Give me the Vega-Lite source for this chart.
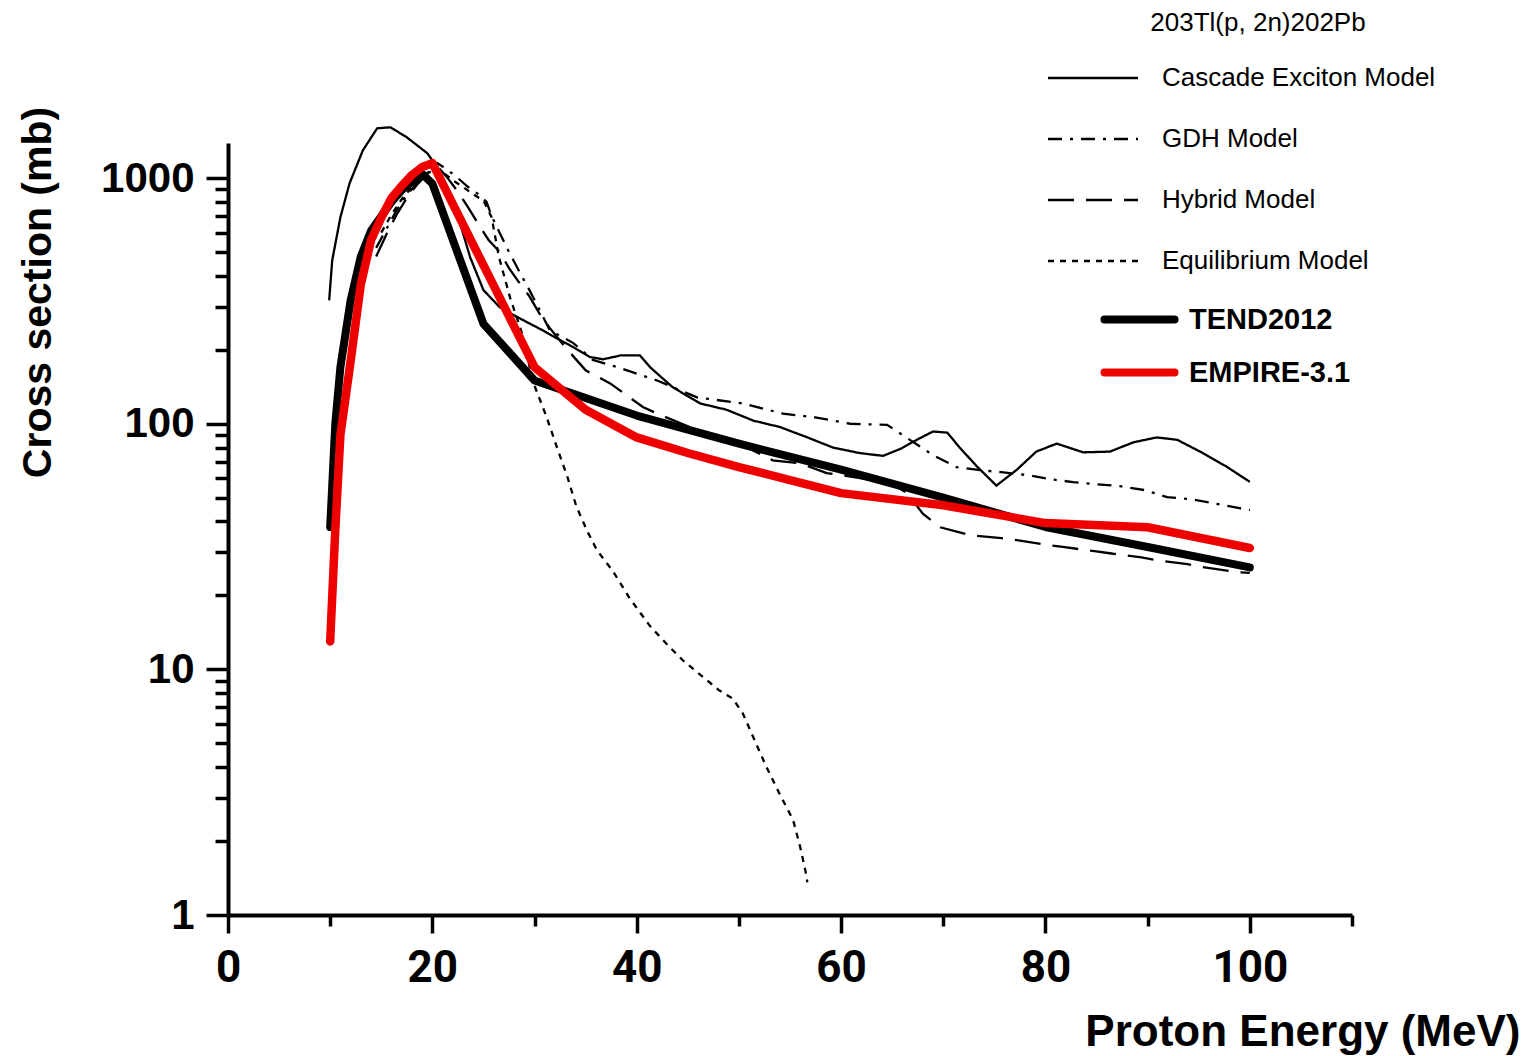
{
  "$schema": "https://vega.github.io/schema/vega-lite/v6.json",
  "width": 1124,
  "height": 772,
  "autosize": {"type": "none"},
  "padding": {"left": 228, "top": 143, "right": 180, "bottom": 141},
  "background": "white",
  "config": {"view": {"stroke": null}, "font": "Liberation Sans"},
  "data": {"values": [
    {"series": "Cascade Exciton Model", "energy": 9.9, "xs": 318},
    {"series": "Cascade Exciton Model", "energy": 10.2, "xs": 463},
    {"series": "Cascade Exciton Model", "energy": 11, "xs": 693},
    {"series": "Cascade Exciton Model", "energy": 11.9, "xs": 953},
    {"series": "Cascade Exciton Model", "energy": 13.2, "xs": 1298},
    {"series": "Cascade Exciton Model", "energy": 14.6, "xs": 1596},
    {"series": "Cascade Exciton Model", "energy": 15.9, "xs": 1610},
    {"series": "Cascade Exciton Model", "energy": 17.5, "xs": 1466},
    {"series": "Cascade Exciton Model", "energy": 19.5, "xs": 1263},
    {"series": "Cascade Exciton Model", "energy": 20.7, "xs": 1077},
    {"series": "Cascade Exciton Model", "energy": 22, "xs": 813},
    {"series": "Cascade Exciton Model", "energy": 23, "xs": 597},
    {"series": "Cascade Exciton Model", "energy": 23.7, "xs": 476},
    {"series": "Cascade Exciton Model", "energy": 25, "xs": 350},
    {"series": "Cascade Exciton Model", "energy": 26.6, "xs": 298},
    {"series": "Cascade Exciton Model", "energy": 28.3, "xs": 272},
    {"series": "Cascade Exciton Model", "energy": 30.8, "xs": 240},
    {"series": "Cascade Exciton Model", "energy": 32.5, "xs": 219},
    {"series": "Cascade Exciton Model", "energy": 33.8, "xs": 205},
    {"series": "Cascade Exciton Model", "energy": 35.4, "xs": 187},
    {"series": "Cascade Exciton Model", "energy": 36.7, "xs": 183},
    {"series": "Cascade Exciton Model", "energy": 38.5, "xs": 190},
    {"series": "Cascade Exciton Model", "energy": 40.3, "xs": 190},
    {"series": "Cascade Exciton Model", "energy": 41.3, "xs": 170},
    {"series": "Cascade Exciton Model", "energy": 43.5, "xs": 141},
    {"series": "Cascade Exciton Model", "energy": 46.2, "xs": 121},
    {"series": "Cascade Exciton Model", "energy": 48.8, "xs": 114},
    {"series": "Cascade Exciton Model", "energy": 51.4, "xs": 103},
    {"series": "Cascade Exciton Model", "energy": 54, "xs": 97},
    {"series": "Cascade Exciton Model", "energy": 56.7, "xs": 88},
    {"series": "Cascade Exciton Model", "energy": 59.2, "xs": 80},
    {"series": "Cascade Exciton Model", "energy": 61.8, "xs": 76},
    {"series": "Cascade Exciton Model", "energy": 64.1, "xs": 74},
    {"series": "Cascade Exciton Model", "energy": 65.8, "xs": 79},
    {"series": "Cascade Exciton Model", "energy": 67.4, "xs": 86},
    {"series": "Cascade Exciton Model", "energy": 69, "xs": 93},
    {"series": "Cascade Exciton Model", "energy": 70.4, "xs": 92},
    {"series": "Cascade Exciton Model", "energy": 71.6, "xs": 80},
    {"series": "Cascade Exciton Model", "energy": 73.3, "xs": 67},
    {"series": "Cascade Exciton Model", "energy": 75.2, "xs": 56},
    {"series": "Cascade Exciton Model", "energy": 77.2, "xs": 65},
    {"series": "Cascade Exciton Model", "energy": 79.1, "xs": 77},
    {"series": "Cascade Exciton Model", "energy": 81.1, "xs": 83},
    {"series": "Cascade Exciton Model", "energy": 83.7, "xs": 76.5},
    {"series": "Cascade Exciton Model", "energy": 86.3, "xs": 77},
    {"series": "Cascade Exciton Model", "energy": 88.6, "xs": 84},
    {"series": "Cascade Exciton Model", "energy": 90.9, "xs": 88},
    {"series": "Cascade Exciton Model", "energy": 92.9, "xs": 86},
    {"series": "Cascade Exciton Model", "energy": 95.4, "xs": 76},
    {"series": "Cascade Exciton Model", "energy": 97.7, "xs": 67},
    {"series": "Cascade Exciton Model", "energy": 100, "xs": 58},

    {"series": "GDH Model", "energy": 14.5, "xs": 520},
    {"series": "GDH Model", "energy": 15.5, "xs": 620},
    {"series": "GDH Model", "energy": 16.5, "xs": 740},
    {"series": "GDH Model", "energy": 17.5, "xs": 850},
    {"series": "GDH Model", "energy": 18.5, "xs": 960},
    {"series": "GDH Model", "energy": 19.5, "xs": 1080},
    {"series": "GDH Model", "energy": 20.5, "xs": 1150},
    {"series": "GDH Model", "energy": 21.5, "xs": 1080},
    {"series": "GDH Model", "energy": 22.5, "xs": 1000},
    {"series": "GDH Model", "energy": 23.5, "xs": 920},
    {"series": "GDH Model", "energy": 24.5, "xs": 860},
    {"series": "GDH Model", "energy": 25.3, "xs": 800},
    {"series": "GDH Model", "energy": 25.8, "xs": 700},
    {"series": "GDH Model", "energy": 26.6, "xs": 597},
    {"series": "GDH Model", "energy": 27.5, "xs": 500},
    {"series": "GDH Model", "energy": 28.6, "xs": 410},
    {"series": "GDH Model", "energy": 29.5, "xs": 350},
    {"series": "GDH Model", "energy": 30.5, "xs": 290},
    {"series": "GDH Model", "energy": 31.5, "xs": 240},
    {"series": "GDH Model", "energy": 33.8, "xs": 213},
    {"series": "GDH Model", "energy": 35.7, "xs": 182},
    {"series": "GDH Model", "energy": 38.1, "xs": 170},
    {"series": "GDH Model", "energy": 42, "xs": 150},
    {"series": "GDH Model", "energy": 45.9, "xs": 128},
    {"series": "GDH Model", "energy": 50.4, "xs": 121},
    {"series": "GDH Model", "energy": 54.3, "xs": 110},
    {"series": "GDH Model", "energy": 57.6, "xs": 106},
    {"series": "GDH Model", "energy": 60.9, "xs": 100},
    {"series": "GDH Model", "energy": 64.5, "xs": 99},
    {"series": "GDH Model", "energy": 69, "xs": 74.5},
    {"series": "GDH Model", "energy": 71.3, "xs": 66.6},
    {"series": "GDH Model", "energy": 73.6, "xs": 64.7},
    {"series": "GDH Model", "energy": 75.7, "xs": 63.5},
    {"series": "GDH Model", "energy": 78.2, "xs": 61.8},
    {"series": "GDH Model", "energy": 80.4, "xs": 59.5},
    {"series": "GDH Model", "energy": 82.7, "xs": 57.9},
    {"series": "GDH Model", "energy": 85.1, "xs": 56.7},
    {"series": "GDH Model", "energy": 87.3, "xs": 55.7},
    {"series": "GDH Model", "energy": 89.7, "xs": 53.7},
    {"series": "GDH Model", "energy": 91.9, "xs": 50.3},
    {"series": "GDH Model", "energy": 94.3, "xs": 49.3},
    {"series": "GDH Model", "energy": 96.4, "xs": 47.5},
    {"series": "GDH Model", "energy": 99, "xs": 45.3},
    {"series": "GDH Model", "energy": 100, "xs": 44.5},

    {"series": "Hybrid Model", "energy": 14.5, "xs": 480},
    {"series": "Hybrid Model", "energy": 15.5, "xs": 590},
    {"series": "Hybrid Model", "energy": 16.5, "xs": 710},
    {"series": "Hybrid Model", "energy": 17.5, "xs": 830},
    {"series": "Hybrid Model", "energy": 18.5, "xs": 940},
    {"series": "Hybrid Model", "energy": 19.5, "xs": 1040},
    {"series": "Hybrid Model", "energy": 20.5, "xs": 1120},
    {"series": "Hybrid Model", "energy": 21.5, "xs": 1000},
    {"series": "Hybrid Model", "energy": 22.5, "xs": 880},
    {"series": "Hybrid Model", "energy": 23.5, "xs": 760},
    {"series": "Hybrid Model", "energy": 24.5, "xs": 650},
    {"series": "Hybrid Model", "energy": 25.5, "xs": 560},
    {"series": "Hybrid Model", "energy": 26.6, "xs": 500},
    {"series": "Hybrid Model", "energy": 27.5, "xs": 430},
    {"series": "Hybrid Model", "energy": 28.6, "xs": 370},
    {"series": "Hybrid Model", "energy": 29.5, "xs": 330},
    {"series": "Hybrid Model", "energy": 30.5, "xs": 280},
    {"series": "Hybrid Model", "energy": 31.5, "xs": 245},
    {"series": "Hybrid Model", "energy": 33, "xs": 205},
    {"series": "Hybrid Model", "energy": 35, "xs": 165},
    {"series": "Hybrid Model", "energy": 37.4, "xs": 146},
    {"series": "Hybrid Model", "energy": 40.6, "xs": 117},
    {"series": "Hybrid Model", "energy": 42, "xs": 110},
    {"series": "Hybrid Model", "energy": 45.2, "xs": 97},
    {"series": "Hybrid Model", "energy": 50.8, "xs": 80},
    {"series": "Hybrid Model", "energy": 53.3, "xs": 71},
    {"series": "Hybrid Model", "energy": 56, "xs": 69},
    {"series": "Hybrid Model", "energy": 58.6, "xs": 63},
    {"series": "Hybrid Model", "energy": 62, "xs": 60},
    {"series": "Hybrid Model", "energy": 65, "xs": 57},
    {"series": "Hybrid Model", "energy": 66.5, "xs": 52},
    {"series": "Hybrid Model", "energy": 68, "xs": 43},
    {"series": "Hybrid Model", "energy": 69.7, "xs": 37.9},
    {"series": "Hybrid Model", "energy": 72.6, "xs": 35.2},
    {"series": "Hybrid Model", "energy": 75.7, "xs": 34.2},
    {"series": "Hybrid Model", "energy": 77.2, "xs": 33.6},
    {"series": "Hybrid Model", "energy": 80.2, "xs": 32.1},
    {"series": "Hybrid Model", "energy": 81.7, "xs": 31.5},
    {"series": "Hybrid Model", "energy": 84.8, "xs": 30.3},
    {"series": "Hybrid Model", "energy": 86.3, "xs": 29.7},
    {"series": "Hybrid Model", "energy": 89.4, "xs": 28.6},
    {"series": "Hybrid Model", "energy": 90.9, "xs": 27.8},
    {"series": "Hybrid Model", "energy": 93.9, "xs": 26.8},
    {"series": "Hybrid Model", "energy": 95.4, "xs": 26.1},
    {"series": "Hybrid Model", "energy": 98.7, "xs": 24.9},
    {"series": "Hybrid Model", "energy": 100, "xs": 24.7},

    {"series": "Equilibrium Model", "energy": 15, "xs": 600},
    {"series": "Equilibrium Model", "energy": 16, "xs": 710},
    {"series": "Equilibrium Model", "energy": 17, "xs": 820},
    {"series": "Equilibrium Model", "energy": 18, "xs": 920},
    {"series": "Equilibrium Model", "energy": 19, "xs": 1010},
    {"series": "Equilibrium Model", "energy": 20, "xs": 1090},
    {"series": "Equilibrium Model", "energy": 21, "xs": 1060},
    {"series": "Equilibrium Model", "energy": 22, "xs": 980},
    {"series": "Equilibrium Model", "energy": 23, "xs": 920},
    {"series": "Equilibrium Model", "energy": 24, "xs": 860},
    {"series": "Equilibrium Model", "energy": 25, "xs": 810},
    {"series": "Equilibrium Model", "energy": 25.8, "xs": 693},
    {"series": "Equilibrium Model", "energy": 26.5, "xs": 480},
    {"series": "Equilibrium Model", "energy": 27.6, "xs": 327},
    {"series": "Equilibrium Model", "energy": 28.9, "xs": 225},
    {"series": "Equilibrium Model", "energy": 29.8, "xs": 150},
    {"series": "Equilibrium Model", "energy": 31.2, "xs": 106},
    {"series": "Equilibrium Model", "energy": 32.2, "xs": 80},
    {"series": "Equilibrium Model", "energy": 33.2, "xs": 61},
    {"series": "Equilibrium Model", "energy": 34.1, "xs": 46},
    {"series": "Equilibrium Model", "energy": 35.1, "xs": 37},
    {"series": "Equilibrium Model", "energy": 36.1, "xs": 30.6},
    {"series": "Equilibrium Model", "energy": 37.7, "xs": 25},
    {"series": "Equilibrium Model", "energy": 39.3, "xs": 19.5},
    {"series": "Equilibrium Model", "energy": 41.3, "xs": 15},
    {"series": "Equilibrium Model", "energy": 43, "xs": 12.6},
    {"series": "Equilibrium Model", "energy": 44.5, "xs": 10.9},
    {"series": "Equilibrium Model", "energy": 46.5, "xs": 9.3},
    {"series": "Equilibrium Model", "energy": 48.1, "xs": 8.2},
    {"series": "Equilibrium Model", "energy": 49.4, "xs": 7.6},
    {"series": "Equilibrium Model", "energy": 50.4, "xs": 6.6},
    {"series": "Equilibrium Model", "energy": 51.4, "xs": 5.3},
    {"series": "Equilibrium Model", "energy": 52.7, "xs": 4.0},
    {"series": "Equilibrium Model", "energy": 54, "xs": 3.1},
    {"series": "Equilibrium Model", "energy": 55.3, "xs": 2.44},
    {"series": "Equilibrium Model", "energy": 56, "xs": 1.89},
    {"series": "Equilibrium Model", "energy": 56.5, "xs": 1.52},
    {"series": "Equilibrium Model", "energy": 56.7, "xs": 1.36},

    {"series": "TEND2012", "energy": 10, "xs": 38},
    {"series": "TEND2012", "energy": 10.5, "xs": 100},
    {"series": "TEND2012", "energy": 11, "xs": 170},
    {"series": "TEND2012", "energy": 12, "xs": 318},
    {"series": "TEND2012", "energy": 13, "xs": 480},
    {"series": "TEND2012", "energy": 14, "xs": 610},
    {"series": "TEND2012", "energy": 15, "xs": 700},
    {"series": "TEND2012", "energy": 16, "xs": 800},
    {"series": "TEND2012", "energy": 17, "xs": 893},
    {"series": "TEND2012", "energy": 18, "xs": 970},
    {"series": "TEND2012", "energy": 19, "xs": 1040},
    {"series": "TEND2012", "energy": 20, "xs": 950},
    {"series": "TEND2012", "energy": 25, "xs": 255},
    {"series": "TEND2012", "energy": 30, "xs": 150},
    {"series": "TEND2012", "energy": 40, "xs": 108},
    {"series": "TEND2012", "energy": 50, "xs": 83},
    {"series": "TEND2012", "energy": 60, "xs": 65},
    {"series": "TEND2012", "energy": 70, "xs": 50},
    {"series": "TEND2012", "energy": 80, "xs": 38},
    {"series": "TEND2012", "energy": 90, "xs": 31.5},
    {"series": "TEND2012", "energy": 100, "xs": 26},

    {"series": "EMPIRE-3.1", "energy": 10, "xs": 13},
    {"series": "EMPIRE-3.1", "energy": 10.5, "xs": 37},
    {"series": "EMPIRE-3.1", "energy": 11, "xs": 90},
    {"series": "EMPIRE-3.1", "energy": 12, "xs": 180},
    {"series": "EMPIRE-3.1", "energy": 13, "xs": 370},
    {"series": "EMPIRE-3.1", "energy": 14, "xs": 560},
    {"series": "EMPIRE-3.1", "energy": 15, "xs": 690},
    {"series": "EMPIRE-3.1", "energy": 16, "xs": 830},
    {"series": "EMPIRE-3.1", "energy": 17, "xs": 930},
    {"series": "EMPIRE-3.1", "energy": 18, "xs": 1030},
    {"series": "EMPIRE-3.1", "energy": 19, "xs": 1110},
    {"series": "EMPIRE-3.1", "energy": 20, "xs": 1150},
    {"series": "EMPIRE-3.1", "energy": 25, "xs": 442},
    {"series": "EMPIRE-3.1", "energy": 30, "xs": 170},
    {"series": "EMPIRE-3.1", "energy": 35, "xs": 114},
    {"series": "EMPIRE-3.1", "energy": 40, "xs": 88},
    {"series": "EMPIRE-3.1", "energy": 45, "xs": 76},
    {"series": "EMPIRE-3.1", "energy": 50, "xs": 66.6},
    {"series": "EMPIRE-3.1", "energy": 55, "xs": 59},
    {"series": "EMPIRE-3.1", "energy": 60, "xs": 52.2},
    {"series": "EMPIRE-3.1", "energy": 70, "xs": 46.6},
    {"series": "EMPIRE-3.1", "energy": 80, "xs": 39.4},
    {"series": "EMPIRE-3.1", "energy": 90, "xs": 37.9},
    {"series": "EMPIRE-3.1", "energy": 100, "xs": 31.2}
  ]},
  "encoding": {
    "x": {
      "field": "energy", "type": "quantitative",
      "scale": {"domain": [0, 110], "nice": false, "zero": false},
      "axis": {
        "values": [0, 10, 20, 30, 40, 50, 60, 70, 80, 90, 100, 110],
        "labelExpr": "(datum.value % 20 == 0 && datum.value <= 100) ? datum.label : ''",
        "grid": false,
        "domainColor": "black", "domainWidth": 4,
        "tickColor": "black", "tickWidth": 3.5,
        "tickSize": {"condition": {"test": "datum.value % 20 == 0", "value": 18}, "value": 11},
        "labelFont": "Roboto", "labelFontWeight": "bold", "labelFontSize": 44,
        "labelColor": "black", "labelPadding": 13, "labelOverlap": false, "labelFlush": false,
        "title": "Proton Energy (MeV)",
        "titleFont": "Liberation Sans", "titleFontWeight": "bold", "titleFontSize": 44, "titleColor": "black",
        "titleX": 1292, "titleY": 130, "titleAlign": "right", "titleBaseline": "alphabetic", "titleAnchor": null
      }
    },
    "y": {
      "field": "xs", "type": "quantitative",
      "scale": {"type": "log", "domain": [1, 1390], "nice": false},
      "axis": {
        "values": [1, 2, 3, 4, 5, 6, 7, 8, 9, 10, 20, 30, 40, 50, 60, 70, 80, 90, 100, 200, 300, 400, 500, 600, 700, 800, 900, 1000],
        "format": "d",
        "labelExpr": "indexof([1, 10, 100, 1000], datum.value) >= 0 ? datum.label : ''",
        "grid": false,
        "domainColor": "black", "domainWidth": 4,
        "tickColor": "black", "tickWidth": 3.5,
        "tickSize": {"condition": {"test": "indexof([1, 10, 100, 1000], datum.value) >= 0", "value": 22}, "value": 13},
        "labelFont": "Liberation Sans", "labelFontWeight": "bold", "labelFontSize": 42,
        "labelColor": "black", "labelPadding": 12, "labelOverlap": false, "labelFlush": false,
        "title": "Cross section (mb)",
        "titleFont": "Liberation Sans", "titleFontWeight": "bold", "titleFontSize": 41, "titleColor": "black",
        "titleX": -178, "titleY": 149, "titleAlign": "center", "titleBaseline": "alphabetic", "titleAngle": 270, "titleAnchor": null
      }
    }
  },
  "layer": [
    {
      "transform": [{"filter": {"field": "series", "oneOf": ["Cascade Exciton Model", "GDH Model", "Hybrid Model", "Equilibrium Model"]}}],
      "mark": {"type": "line", "color": "black", "strokeWidth": 2.3},
      "encoding": {
        "strokeDash": {
          "field": "series", "type": "nominal",
          "scale": {"domain": ["Cascade Exciton Model", "GDH Model", "Hybrid Model", "Equilibrium Model"],
                    "range": [[1, 0], [14, 8, 3, 8], [26, 12], [6, 6]]},
          "legend": {
            "orient": "none", "legendX": 852, "legendY": -133, "padding": 0,
            "title": "203Tl(p, 2n)202Pb",
            "titleFont": "Liberation Sans", "titleFontSize": 26, "titleFontWeight": "normal",
            "titleColor": "black", "titleAnchor": "middle", "titlePadding": 29, "titleLimit": 600,
            "labelFont": "Liberation Sans", "labelFontSize": 26, "labelFontWeight": "normal",
            "labelColor": "black", "labelOffset": 56, "labelLimit": 0,
            "symbolType": "M-4.5,0H4.5", "symbolSize": 400, "symbolStrokeWidth": 2.3,
            "symbolStrokeColor": "black", "symbolFillColor": "transparent",
            "rowPadding": 35
          }
        }
      }
    },
    {
      "transform": [{"filter": {"field": "series", "equal": "TEND2012"}}],
      "mark": {"type": "line", "strokeWidth": 8, "strokeCap": "round", "strokeJoin": "round"},
      "encoding": {
        "color": {
          "field": "series", "type": "nominal",
          "scale": {"domain": ["TEND2012", "EMPIRE-3.1"], "range": ["black", "#ee0000"]},
          "legend": {
            "orient": "none", "legendX": 897, "legendY": 162, "padding": 0,
            "title": null,
            "labelFont": "Liberation Sans", "labelFontSize": 29, "labelFontWeight": "bold",
            "labelColor": "black", "labelOffset": 35, "labelLimit": 0,
            "symbolType": "M-3.5,0H3.5", "symbolSize": 400, "symbolStrokeWidth": 8,
            "symbolFillColor": "transparent",
            "rowPadding": 20,
            "encode": {"symbols": {"update": {"strokeCap": {"value": "round"}}}}
          }
        }
      }
    },
    {
      "transform": [{"filter": {"field": "series", "equal": "EMPIRE-3.1"}}],
      "mark": {"type": "line", "strokeWidth": 8.5, "strokeCap": "round", "strokeJoin": "round"},
      "encoding": {
        "color": {
          "field": "series", "type": "nominal",
          "scale": {"domain": ["TEND2012", "EMPIRE-3.1"], "range": ["black", "#ee0000"]}
        }
      }
    }
  ]
}
